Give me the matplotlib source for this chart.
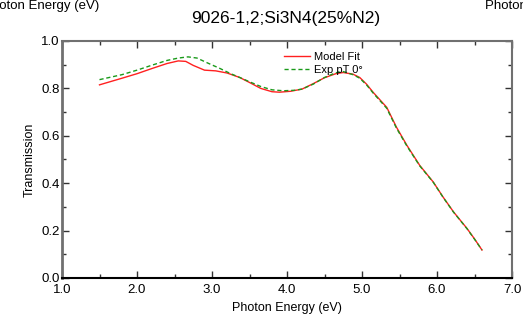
import matplotlib
matplotlib.use("Agg")
import matplotlib.pyplot as plt
from matplotlib.ticker import MultipleLocator

plt.rcParams['font.family'] = ['Liberation Sans', 'DejaVu Sans']

# Model fit (red)
fit_x = [1.5, 1.8, 2.0, 2.2, 2.4, 2.55, 2.65, 2.75, 2.9, 3.05, 3.2, 3.37, 3.5,
         3.65, 3.8, 3.9, 4.05, 4.2, 4.35, 4.5, 4.65, 4.75, 4.88, 4.97, 5.06,
         5.15, 5.33, 5.46, 5.6, 5.77, 5.95, 6.08, 6.22, 6.4, 6.5, 6.6]
fit_y = [0.815, 0.843, 0.862, 0.884, 0.905, 0.916, 0.914, 0.897, 0.877, 0.874, 0.865,
         0.846, 0.825, 0.800, 0.786, 0.784, 0.788, 0.797, 0.820, 0.845, 0.862, 0.867,
         0.860, 0.846, 0.818, 0.783, 0.720, 0.636, 0.559, 0.475, 0.405, 0.342,
         0.279, 0.209, 0.165, 0.118]

# Experimental pT 0 deg (green dashed)
exp_x = [1.5, 1.8, 2.0, 2.2, 2.4, 2.55, 2.68, 2.8, 2.95, 3.1, 3.25, 3.37, 3.5,
         3.65, 3.8, 3.95, 4.1, 4.2, 4.35, 4.5, 4.65, 4.75, 4.88, 4.97, 5.06,
         5.15, 5.33, 5.46, 5.6, 5.77, 5.95, 6.08, 6.22, 6.4, 6.5, 6.6]
exp_y = [0.837, 0.858, 0.877, 0.898, 0.918, 0.928, 0.933, 0.928, 0.906, 0.885, 0.862,
         0.846, 0.828, 0.808, 0.794, 0.790, 0.792, 0.797, 0.818, 0.846, 0.866, 0.871,
         0.858, 0.843, 0.815, 0.780, 0.716, 0.632, 0.556, 0.473, 0.404, 0.341,
         0.278, 0.208, 0.164, 0.118]

fig = plt.figure(figsize=(5.23, 3.21), dpi=100)
ax = fig.add_axes([62/523, 43/321, 450/523, 237/321])

ax.plot(fit_x, fit_y, color='#ff2020', lw=1.0, label='Model Fit')
ax.plot(exp_x, exp_y, color='#1a9a1a', lw=1.0, ls=(0, (3, 2)), label='Exp pT 0°')

ax.set_xlim(1.0, 7.0)
ax.set_ylim(0.0, 1.0)
ax.xaxis.set_major_locator(MultipleLocator(1.0))
ax.xaxis.set_minor_locator(MultipleLocator(0.5))
ax.yaxis.set_major_locator(MultipleLocator(0.2))
ax.yaxis.set_minor_locator(MultipleLocator(0.1))
ax.xaxis.set_major_formatter(lambda v, p: f"{v:.1f}")
ax.yaxis.set_major_formatter(lambda v, p: f"{v:.1f}")
ax.tick_params(which='both', direction='in', top=True, right=True, labelsize=9.5)
ax.tick_params(axis='x', pad=4)
ax.tick_params(axis='y', pad=1.5)
ax.tick_params(which='major', length=5, width=1, color='#333333')
ax.tick_params(which='minor', length=3, width=1, color='#333333')

for s in ['left', 'top', 'right']:
    ax.spines[s].set_color('#707070')
ax.spines['left'].set_linewidth(2)
ax.spines['right'].set_linewidth(1.5)
ax.spines['top'].set_linewidth(1.5)
ax.spines['bottom'].set_color('black')
ax.spines['bottom'].set_linewidth(1.5)

ax.set_xlabel('Photon Energy (eV)', fontsize=9, labelpad=5)
ax.set_ylabel('Transmission', fontsize=9, labelpad=4)
fig.text(286/523, 1 - 18/321, '9026-1,2;Si3N4(25%N2)', fontsize=12.5,
         ha='center', va='center')

# pieces of neighbouring charts cut off at the edges
fig.text(-17/523, 1 - 6/321, 'Photon Energy (eV)', fontsize=9.5, ha='left', va='center')
fig.text(485/523, 1 - 6/321, 'Photon Energy (eV)', fontsize=9.5, ha='left', va='center')

ax.legend(loc='upper left', bbox_to_anchor=(0.475, 0.985), frameon=False, fontsize=8,
          handlelength=2.4, handletextpad=0.3, labelspacing=0.25, borderpad=0.2)

fig.savefig('out.png', dpi=100)
